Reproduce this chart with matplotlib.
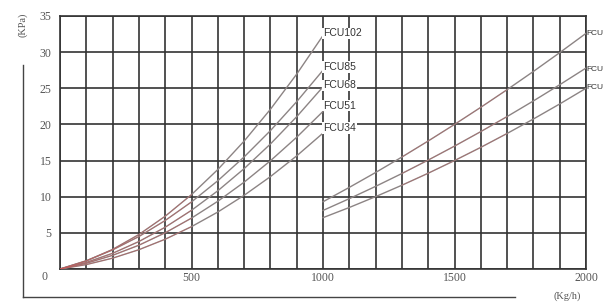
import matplotlib
matplotlib.use("Agg")
import matplotlib.pyplot as plt
from matplotlib.lines import Line2D
import matplotlib.transforms as mtransforms

# ---- data ----
flow_low = [0, 100, 200, 300, 400, 500, 600, 700, 800, 900, 1000]
fcu102 = [0, 1.12, 2.71, 4.77, 7.30, 10.29, 13.76, 17.69, 22.09, 26.96, 32.3]
fcu85 = [0, 1.14, 2.64, 4.49, 6.71, 9.28, 12.21, 15.50, 19.14, 23.15, 27.5]
fcu68 = [0, 0.91, 2.17, 3.80, 5.78, 8.12, 10.82, 13.88, 17.29, 21.07, 25.2]
fcu51 = [0, 0.79, 1.89, 3.29, 5.01, 7.04, 9.37, 12.01, 14.97, 18.23, 21.8]
fcu34 = [0, 0.61, 1.50, 2.67, 4.12, 5.86, 7.88, 10.19, 12.78, 15.65, 18.8]

flow_high = [1000, 1100, 1200, 1300, 1400, 1500, 1600, 1700, 1800, 1900, 2000]
hi_a = [9.3, 11.29, 13.35, 15.49, 17.71, 20.0, 22.37, 24.81, 27.33, 29.93, 32.6]
hi_b = [8.1, 9.73, 11.43, 13.21, 15.07, 17.0, 19.01, 21.09, 23.25, 25.49, 27.8]
hi_c = [7.1, 8.51, 10.01, 11.59, 13.25, 15.0, 16.83, 18.75, 20.75, 22.83, 25.0]

low_names = ["FCU102", "FCU85", "FCU68", "FCU51", "FCU34"]
low_label_y = [32.6, 27.9, 25.4, 22.6, 19.5]
high_names = ["FCU", "FCU", "FCU"]
high_label_y = [32.6, 27.6, 25.1]

x_tick_values = list(range(0, 2001, 100))
x_tick_labels = ["" if (v == 0 or v % 500) else str(v) for v in x_tick_values]
y_tick_values = [0, 5, 10, 15, 20, 25, 30, 35]
y_tick_labels = [str(v) for v in y_tick_values]

# ---- figure ----
W, H = 604, 306
fig = plt.figure(figsize=(W / 100, H / 100), dpi=100)
ax = fig.add_axes([60 / W, 37 / H, 526 / W, 253 / H])
ax.set_xlim(0, 2000)
ax.set_ylim(0, 35)

grid_col = "#333333"
ax.set_xticks(x_tick_values)
ax.set_xticklabels(x_tick_labels)
ax.set_yticks(y_tick_values)
ax.set_yticklabels(y_tick_labels)
ax.grid(True, color=grid_col, linewidth=1.2)
ax.set_axisbelow(True)
for s in ax.spines.values():
    s.set_color(grid_col)
    s.set_linewidth(1.2)
ax.tick_params(length=0, labelsize=8.5, labelcolor="#555555")
ax.tick_params(axis="x", pad=2)
ax.tick_params(axis="y", pad=6)
for lab in ax.get_xticklabels() + ax.get_yticklabels():
    lab.set_family("Liberation Serif")
# lower the "0" label slightly
ylabs = ax.get_yticklabels()
off = mtransforms.ScaledTranslation(-3 / 72, -5 / 72, fig.dpi_scale_trans)
ylabs[0].set_transform(ylabs[0].get_transform() + off)

line_gray = "#8c8484"
line_red = "#d05050"
for ys in [fcu102, fcu85, fcu68, fcu51, fcu34]:
    ax.plot(flow_low, ys, color=line_gray, lw=1.0, zorder=3)
    ax.plot(flow_low[:6], ys[:6], color=line_red, lw=0.6, alpha=0.45, zorder=4)
for ys in [hi_a, hi_b, hi_c]:
    ax.plot(flow_high, ys, color=line_gray, lw=1.0, zorder=3)
    ax.plot(flow_high[3:8], ys[3:8], color=line_red, lw=0.6, alpha=0.35, zorder=4)

for name, yv in zip(low_names, low_label_y):
    ax.text(1000, yv, name, ha="left", va="center", fontsize=7.5,
            color="#333333", family="Liberation Sans", zorder=5,
            bbox=dict(facecolor="white", edgecolor="none", pad=0.6))
# right-hand labels, kept inside the figure's right edge
edge_tf = mtransforms.blended_transform_factory(fig.transFigure, ax.transData)
for name, yv in zip(high_names, high_label_y):
    ax.text((W - 1) / W, yv, name, ha="right", va="center", fontsize=6,
            color="#333333", family="Liberation Sans", zorder=5,
            clip_on=False, transform=edge_tf)

# outer L-shaped axis
fig.add_artist(Line2D([23 / W, 23 / W], [1 - 65 / H, 1 - 297 / H],
                      transform=fig.transFigure, color="#444444", lw=1.0))
fig.add_artist(Line2D([23 / W, 515 / W], [1 - 297 / H, 1 - 297 / H],
                      transform=fig.transFigure, color="#444444", lw=1.0))
fig.text(23 / W, 1 - 25 / H, "(KPa)", rotation=90, ha="center", va="center",
         fontsize=7.5, color="#555555", family="Liberation Serif")
fig.text(567 / W, 1 - 296 / H, "(Kg/h)", ha="center", va="center",
         fontsize=7.5, color="#555555", family="Liberation Serif")

fig.savefig("out.png", dpi=100)
